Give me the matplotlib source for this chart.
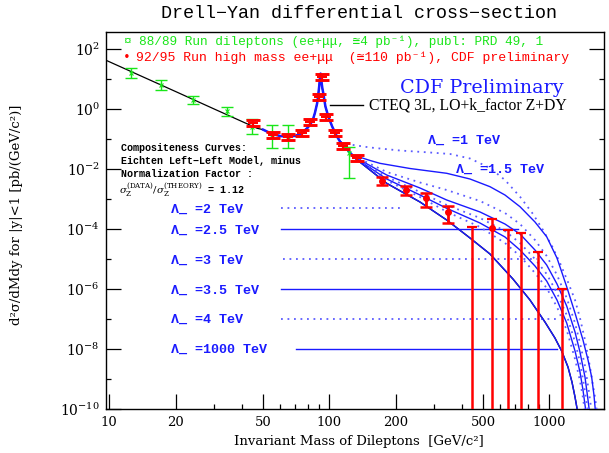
import matplotlib
matplotlib.use('Agg')
import matplotlib.pyplot as plt
from matplotlib.lines import Line2D

plt.rcParams['mathtext.fontset'] = 'dejavuserif'

# ---------------- data ----------------
# CTEQ 3L theory (low-mass part, black)
theory_mass = [9.6, 15, 20, 30, 40, 47, 50]
theory_xs = [44, 10.1, 3.92, 1.02, 0.395, 0.233, 0.21]

# common (Z-peak) region of the compositeness curves
peak_mass = [50, 55, 60, 65, 70, 75, 80, 84, 86, 88, 89, 90, 90.8, 91.3, 92.2, 93, 94, 96, 99, 103, 108, 112]
peak_xs = [0.21, 0.15, 0.128, 0.122, 0.13, 0.16, 0.25, 0.42, 0.75, 1.55, 2.8, 6.0, 12.0, 15.5, 8.0, 5.0, 3.3, 1.25, 0.57, 0.27, 0.13, 0.083]

# high-mass tails for each Lambda_- value
tail_mass_L1 = [112, 124.2, 153.1, 209.6, 286.9, 353.7, 436.1, 537.7, 628.9, 736, 843, 936, 1028.7, 1119, 1216, 1309, 1379, 1453, 1531, 1579, 1613, 1648]
tail_xs_L1 = [0.083, 0.0671, 0.0533, 0.0423, 0.0363, 0.0324, 0.0229, 0.01105, 4.40e-3, 1.22e-3, 3.24e-4, 9.5e-5, 2.77e-5, 7.5e-6, 1.75e-6, 4.4e-7, 1.10e-7, 2.04e-8, 2.57e-9, 6.45e-10, 2.57e-10, 8.1e-11]
tail_mass_L15 = [112, 128.2, 153.1, 170, 232.7, 341.7, 436.1, 537.7, 628.9, 736, 861, 973, 1084, 1200, 1309, 1423, 1500, 1558, 1596, 1622]
tail_xs_L15 = [0.083, 0.0300, 0.0197, 0.0158, 0.01063, 7.36e-3, 4.75e-3, 2.63e-3, 1.39e-3, 5.67e-4, 1.75e-4, 5.67e-5, 1.10e-5, 1.22e-6, 1.62e-7, 2.04e-8, 4.40e-9, 1.19e-9, 3.0e-10, 8.1e-11]
tail_mass_L2 = [112, 128.2, 182.4, 258.4, 341.7, 484.2, 628.9, 736, 861, 973, 1084, 1200, 1309, 1379, 1453, 1515, 1558]
tail_xs_L2 = [0.083, 0.0288, 8.13e-3, 3.63e-3, 2.04e-3, 8.78e-4, 3.49e-4, 1.50e-4, 4.40e-5, 1.29e-5, 3.0e-6, 5.13e-7, 7.53e-8, 1.62e-8, 2.77e-9, 3.78e-10, 8.1e-11]
tail_mass_L25 = [112, 128.2, 182.4, 258.4, 341.7, 484.2, 628.9, 736, 861, 973, 1084, 1200, 1309, 1379, 1453, 1500, 1523]
tail_xs_L25 = [0.083, 0.0277, 6.45e-3, 2.38e-3, 9.48e-4, 3.78e-4, 1.50e-4, 6.97e-5, 2.04e-5, 6.46e-6, 1.50e-6, 2.77e-7, 3.78e-8, 8.1e-9, 1.19e-9, 2.04e-10, 8.1e-11]
tail_mass_L3 = [112, 128.2, 182.4, 258.4, 341.7, 484.2, 628.9, 736, 861, 973, 1084, 1200, 1309, 1379, 1438, 1484, 1500]
tail_xs_L3 = [0.083, 0.0271, 5.54e-3, 1.75e-3, 6.46e-4, 2.38e-4, 8.78e-5, 3.49e-5, 1.02e-5, 3.24e-6, 7.53e-7, 1.39e-7, 1.75e-8, 3.77e-9, 6.45e-10, 1.39e-10, 8.1e-11]
tail_mass_L35 = [112, 128.2, 182.4, 258.4, 341.7, 484.2, 628.9, 736, 861, 973, 1084, 1200, 1309, 1379, 1423, 1468]
tail_xs_L35 = [0.083, 0.0267, 4.75e-3, 1.39e-3, 5.01e-4, 1.62e-4, 5.54e-5, 2.04e-5, 5.98e-6, 1.89e-6, 4.40e-7, 7.53e-8, 8.8e-9, 1.75e-9, 4.40e-10, 8.1e-11]
tail_mass_L4 = [112, 128.2, 182.4, 258.4, 341.7, 484.2, 628.9, 736, 861, 973, 1084, 1200, 1309, 1379, 1416, 1453]
tail_xs_L4 = [0.083, 0.0265, 4.24e-3, 1.19e-3, 3.86e-4, 1.19e-4, 3.49e-5, 1.29e-5, 3.49e-6, 1.10e-6, 2.57e-7, 4.40e-8, 4.75e-9, 8.78e-10, 3.0e-10, 8.1e-11]
tail_mass_SM = [112, 128.2, 153.1, 182.4, 258.4, 341.7, 436.1, 537.7, 683.9, 817, 956, 1061, 1138, 1216, 1268, 1309, 1346]
tail_xs_SM = [0.083, 0.0263, 9.48e-3, 3.41e-3, 8.13e-4, 2.04e-4, 5.13e-5, 1.50e-5, 2.20e-6, 4.4e-7, 8.1e-8, 2.38e-8, 8.8e-9, 2.57e-9, 8.1e-10, 2.57e-10, 8.1e-11]

lambda_names = ['1', '1.5', '2', '2.5', '3', '3.5', '4', '1000']
lambda_dotted = [True, False, True, False, True, False, True, False]

# 88/89 run (green)
green_mass = [12.6, 17.1, 24.1, 34.1, 44.4, 54.7, 65.1, 123]
green_xs = [15.8, 6.46, 2.04, 0.877, 0.263, 0.122, 0.122, 0.035]
green_hi = [24.4, 9.5, 2.84, 1.22, 0.475, 0.30, 0.30, 0.0554]
green_lo = [10.8, 4.4, 1.47, 0.61, 0.150, 0.051, 0.051, 0.0051]

# 92/95 run (red)
red_mass = [45.1, 55.6, 65.2, 74.9, 81.7, 90.1, 92.3, 96.6, 106, 115, 134, 173, 223, 275, 348]
red_xs = [0.341, 0.139, 0.122, 0.158, 0.386, 2.63, 12.2, 0.54, 0.158, 0.0599, 0.0233, 4.1e-3, 2.04e-3, 1.08e-3, 3.86e-4]
red_hi = [0.426, 0.174, 0.152, 0.198, 0.48, 3.3, 15.2, 0.675, 0.198, 0.075, 0.029, 5.66e-3, 2.77e-3, 1.66e-3, 6.0e-4]
red_lo = [0.273, 0.111, 0.098, 0.126, 0.31, 2.1, 9.8, 0.43, 0.126, 0.048, 0.0186, 2.93e-3, 1.39e-3, 5.4e-4, 1.58e-4]
limit_mass = [447, 547, 647, 743, 891, 1137]
limit_top = [1.22e-4, 2.2e-4, 9.3e-5, 7.7e-5, 1.8e-5, 1.02e-6]
limit_dot_mass = [547]
limit_dot_xs = [1.08e-4]

# labelled horizontal guide lines for the Lambda curves
guide_names = ['2', '2.5', '3', '3.5', '4', '1000']
guide_y = [5.0e-4, 1e-4, 1e-5, 1e-6, 1e-7, 1e-8]
guide_x0 = [60.3, 60.3, 61.5, 60.3, 60.3, 70.3]
guide_x1 = [209, 721, 879, 1202, 1119, 1083]
guide_dotted = [True, False, True, False, True, False]

x_major = [10, 20, 50, 100, 200, 500, 1000]
x_minor = [30, 40, 60, 70, 80, 90, 300, 400, 600, 700, 800, 900]
y_major = [1e2, 1e0, 1e-2, 1e-4, 1e-6, 1e-8, 1e-10]
y_major_labels = [r'$10^{2}$', r'$10^{0}$', r'$10^{-2}$', r'$10^{-4}$', r'$10^{-6}$', r'$10^{-8}$', r'$10^{-10}$']
y_minor = [1e1, 1e-1, 1e-3, 1e-5, 1e-7, 1e-9]

# ---------------- figure ----------------
W, H = 609, 453
fig = plt.figure(figsize=(W / 100, H / 100), dpi=100)
fig.patch.set_facecolor('white')
ax = fig.add_axes([105.5 / W, 1 - 409.3 / H, (604 - 105.5) / W, (409.3 - 31.7) / H])
ax.set_xscale('log')
ax.set_yscale('log')
ax.set_xlim(9.61, 1773)
ax.set_ylim(1e-10, 386)

BLUE = '#1a1aff'
LBLUE = '#5c5cff'
GREEN = '#19e619'
RED = '#ff0000'

# theory
ax.plot(theory_mass, theory_xs, color='black', lw=0.9, zorder=2)
ax.plot(peak_mass + tail_mass_SM[1:], peak_xs + tail_xs_SM[1:], color='black', lw=1.0, zorder=2)

tails = [(tail_mass_L1, tail_xs_L1), (tail_mass_L15, tail_xs_L15), (tail_mass_L2, tail_xs_L2),
         (tail_mass_L25, tail_xs_L25), (tail_mass_L3, tail_xs_L3), (tail_mass_L35, tail_xs_L35),
         (tail_mass_L4, tail_xs_L4), (tail_mass_SM, tail_xs_SM)]
for (tm, tx), dotted in zip(tails, lambda_dotted):
    if dotted:
        ax.plot(tm, tx, color=LBLUE, lw=1.3, ls=(0, (1, 2.6)), zorder=3)
    else:
        ax.plot(tm, tx, color=BLUE, lw=1.0, zorder=3)
ax.plot(peak_mass, peak_xs, color=BLUE, lw=1.8, zorder=3)

# guide lines
for gy, x0, x1, d in zip(guide_y, guide_x0, guide_x1, guide_dotted):
    if d:
        ax.plot([x0, x1], [gy, gy], color=LBLUE, lw=1.3, ls=(0, (1, 2.6)), zorder=2)
    else:
        ax.plot([x0, x1], [gy, gy], color=BLUE, lw=1.0, zorder=2)

# green data
gy_err = [[v - l for v, l in zip(green_xs, green_lo)], [h - v for v, h in zip(green_xs, green_hi)]]
ax.errorbar(green_mass, green_xs, yerr=gy_err, fmt='none', ecolor=GREEN, elinewidth=1.0,
            capsize=4.3, capthick=1.0, zorder=4)
ax.plot(green_mass, green_xs, ls='none', marker='x', ms=2.5, mew=0.8, color=GREEN, zorder=4)

# red data, low mass (thick bars)
n_low = 11
ry_err = [[v - l for v, l in zip(red_xs, red_lo)], [h - v for v, h in zip(red_xs, red_hi)]]
ax.errorbar(red_mass[:n_low], red_xs[:n_low], yerr=[ry_err[0][:n_low], ry_err[1][:n_low]], fmt='none',
            ecolor=RED, elinewidth=1.6, capsize=5.0, capthick=2.1, zorder=5)
ax.plot(red_mass[:n_low], red_xs[:n_low], ls='none', marker='_', ms=7, mew=1.5, color=RED, zorder=5)
# red data, high mass
ax.errorbar(red_mass[n_low:], red_xs[n_low:], yerr=[ry_err[0][n_low:], ry_err[1][n_low:]], fmt='o',
            ms=4.0, color=RED, ecolor=RED, elinewidth=2.0, capsize=4.3, capthick=1.8, zorder=5)
# upper limits / points reaching zero
lim_err = [[t - 1e-13 for t in limit_top], [0 for t in limit_top]]
ax.errorbar(limit_mass, limit_top, yerr=lim_err, fmt='none', ecolor=RED, elinewidth=1.8,
            capsize=3.8, capthick=1.6, zorder=5)
ax.plot(limit_dot_mass, limit_dot_xs, ls='none', marker='o', ms=4.0, color=RED, zorder=5)

# ticks
ax.set_xticks(x_major)
ax.set_xticklabels([str(v) for v in x_major])
ax.set_xticks(x_minor, minor=True)
ax.set_xticklabels([], minor=True)
ax.set_yticks(y_major)
ax.set_yticklabels(y_major_labels)
ax.set_yticks(y_minor, minor=True)
ax.set_yticklabels([], minor=True)
ax.tick_params(which='both', direction='in', top=False, right=True, width=0.9, color='black')
ax.tick_params(which='major', length=10.5)
ax.tick_params(which='minor', length=3.8)
ax.tick_params(axis='x', which='major', pad=5, labelsize=9.5)
ax.tick_params(axis='y', which='major', pad=4, labelsize=10)
for lab in ax.get_xticklabels():
    lab.set_family('DejaVu Serif')
for sp in ax.spines.values():
    sp.set_linewidth(1.0)


def fx(x):
    return x / W


def fy(y):
    return 1 - y / H


MONO = ['Liberation Mono', 'DejaVu Sans Mono']

fig.text(fx(359), fy(13), 'Drell\u2212Yan differential cross\u2212section', family=MONO,
         fontsize=13.2, ha='center', va='center', color='black')
fig.text(fx(359), fy(442), 'Invariant Mass of Dileptons  [GeV/c\u00b2]', family='DejaVu Serif',
         fontsize=9.5, ha='center', va='center')
fig.text(fx(17), fy(215), 'd\u00b2\u03c3/dMdy for |y|<1 [pb/(GeV/c\u00b2)]', family='DejaVu Serif',
         fontsize=9.5, ha='center', va='center', rotation=90)

fig.text(fx(123), fy(42), '\u00a4', family=MONO, fontsize=9.3, color=GREEN, ha='left', va='center')
fig.text(fx(139), fy(42), '88/89 Run dileptons (ee+\u03bc\u03bc, \u22454 pb\u207b\u00b9), publ: PRD 49, 1',
         family=MONO, fontsize=9.2, color=GREEN, ha='left', va='center')
fig.text(fx(123), fy(58), '\u2022', family=MONO, fontsize=9.3, color=RED, ha='left', va='center')
fig.text(fx(136), fy(58), '92/95 Run high mass ee+\u03bc\u03bc  (\u2245110 pb\u207b\u00b9), CDF preliminary',
         family=MONO, fontsize=9.45, color=RED, ha='left', va='center')

fig.text(fx(400), fy(88), 'CDF Preliminary', family='DejaVu Serif', fontsize=13.8, color=BLUE,
         ha='left', va='center')
fig.add_artist(Line2D([fx(330), fx(363)], [fy(105), fy(105)], color='black', lw=1.0))
fig.text(fx(369), fy(105.5), 'CTEQ 3L, LO+k_factor Z+DY', family='Liberation Serif', fontsize=11.3,
         color='black', ha='left', va='center')

comp_lines = ['Compositeness Curves:', 'Eichten Left\u2212Left Model, minus', 'Normalization Factor :']
comp_y = [148, 161, 174]
for t, yy in zip(comp_lines, comp_y):
    fig.text(fx(121), fy(yy), t, family=MONO, fontsize=7.2, fontweight='bold', ha='left', va='center')
fig.text(fx(119), fy(190),
         r'$\sigma_{\mathrm{Z}}^{\mathrm{(DATA)}}/\sigma_{\mathrm{Z}}^{\mathrm{(THEORY)}}$ = 1.12',
         family=MONO, fontsize=7.3, fontweight='bold', ha='left', va='center')

# Lambda labels
lab_pos = {'1': (428, 141), '1.5': (456, 170), '2': (171, 210), '2.5': (171, 231),
           '3': (171, 260.5), '3.5': (171, 290.5), '4': (171, 320), '1000': (171, 350)}
for name in lambda_names:
    px, py = lab_pos[name]
    fig.text(fx(px), fy(py), '\u039b_ =' + name + ' TeV', family=MONO, fontsize=9.6,
             fontweight='bold', color=BLUE, ha='left', va='center')

fig.savefig('out.png', dpi=100, facecolor='white')
